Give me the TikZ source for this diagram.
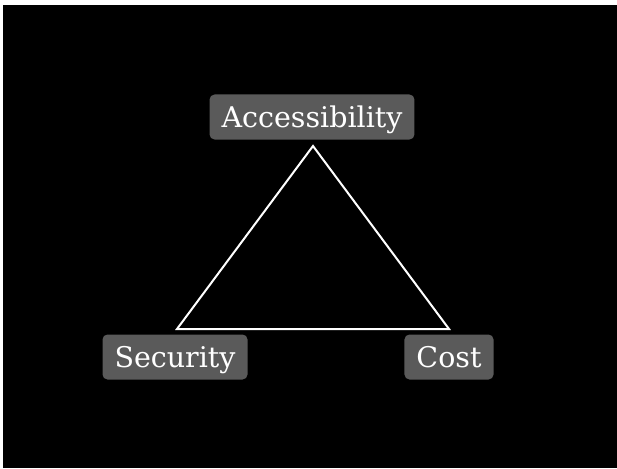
\documentclass[tikz,border=0pt]{standalone}
\usepackage{fontspec}
\setmainfont{DejaVu Serif}
\usepackage{tikz}
\usetikzlibrary{positioning}
\definecolor{labelgray}{HTML}{5A5A5A}
\tikzstyle{labelbox}=[fill=labelgray,text=white,rounded corners=5pt,inner xsep=12pt,inner ysep=0pt,text height=24pt,text depth=3pt,minimum height=45pt,font=\fontsize{28.5}{34}\selectfont]
\tikzstyle{edgepath}=[draw=white,line width=2pt,line join=miter]

\begin{document}
\begin{tikzpicture}[x=1pt,y=-1pt]
    \fill[white] (0,0) rectangle (617,468);
    \fill[black] (3,5) rectangle (617,468);
    \useasboundingbox (0,0) rectangle (617,468);

    \coordinate (top) at (313,146);
    \coordinate (left) at (177,329);
    \coordinate (right) at (449,329);

    \node[labelbox] (access) at (312,117) {Accessibility};
    \node[labelbox] (secure) at (175,357) {Security};
    \node[labelbox] (cost) at (449,357) {Cost};

    \draw[edgepath] (top) -- (left) -- (right) -- cycle;
\end{tikzpicture}
\end{document}
